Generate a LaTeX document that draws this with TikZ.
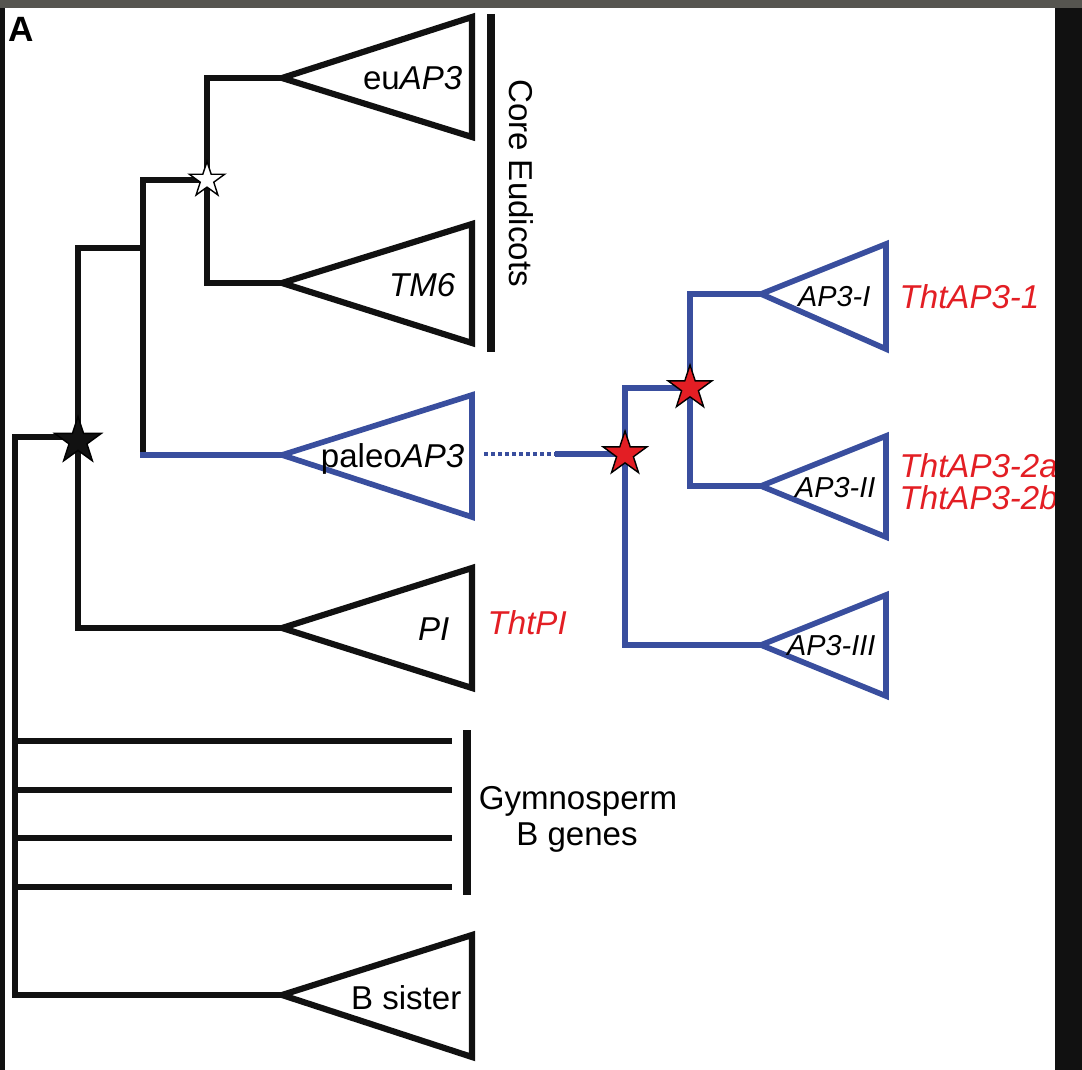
\documentclass[tikz,border=0pt]{standalone}
\usepackage{fontspec}
\setmainfont{Liberation Sans}
\usetikzlibrary{shapes.geometric}
\definecolor{blu}{RGB}{57,78,158}
\definecolor{rosso}{RGB}{227,30,36}
\definecolor{cornice}{RGB}{86,85,80}
\definecolor{nero}{RGB}{17,17,17}
\tikzset{
  ramo/.style={line width=1.45pt,draw=nero},
  ramoblu/.style={line width=1.45pt,draw=blu},
  clade/.style={line width=1.75pt,draw=nero,line join=miter},
  cladeblu/.style={line width=1.6pt,draw=blu,line join=miter},
  barra/.style={line width=2pt,draw=nero},
  stella/.style={star,star points=5,star point ratio=2.6,inner sep=0pt,draw=black,line width=0.4pt},
  etich/.style={font=\fontsize{9.4}{11}\selectfont,inner sep=0pt},
  etichp/.style={font=\fontsize{8.2}{10}\selectfont,inner sep=0pt},
}
\begin{document}
\begin{tikzpicture}[x=0.01cm,y=-0.01cm]
  \useasboundingbox (0,0) rectangle (1082,1070);
  \fill[white] (0,0) rectangle (1082,1070);
  % --- nodi dell'albero ---
  \coordinate (eu) at (282,78);
  \coordinate (tm) at (282,283);
  \coordinate (paleo) at (282,455);
  \coordinate (pi) at (282,628);
  \coordinate (bs) at (282,995);
  \coordinate (ce) at (207,180);
  \coordinate (b1) at (143,248);
  \coordinate (b2) at (143,455);
  \coordinate (s1) at (78,437);
  \coordinate (root) at (15,995);
  \coordinate (pend) at (484,454);
  \coordinate (dend) at (555,454);
  \coordinate (d1) at (625,454);
  \coordinate (d2) at (690,388);
  \coordinate (ap3a) at (761,294);
  \coordinate (ap3b) at (761,486);
  \coordinate (ap3c) at (761,645);
  % --- rami ---
  \draw[ramo] (eu) -| (ce) |- (tm);
  \draw[ramo] (ce) -| (b2);
  \draw[ramoblu,line cap=rect] (b2) -- (paleo);
  \draw[ramo] (b1) -| (s1) |- (pi);
  \draw[ramo] (s1) -| (root) -- (bs);
  \foreach \y [count=\i] in {741,790,838,887} {
    \coordinate (g\i) at (452,\y);
    \draw[ramo] (root |- g\i) -- (g\i);
  }
  % --- ramo blu (paleoAP3) ---
  \draw[ramoblu,line width=1.2pt,dash pattern=on 1.1pt off 0.9pt] (pend) -- (dend);
  \draw[ramoblu] (dend) -- (d1);
  \draw[ramoblu] (d2) -| (d1) |- (ap3c);
  \draw[ramoblu] (ap3a) -| (d2) |- (ap3b);
  % --- triangoli ---
  \draw[clade] (eu) -- (472,17) -- (472,137) -- cycle;
  \draw[clade] (tm) -- (472,224) -- (472,343) -- cycle;
  \draw[cladeblu] (paleo) -- (472,395) -- (472,517) -- cycle;
  \draw[clade] (pi) -- (472,568) -- (472,688) -- cycle;
  \draw[clade] (bs) -- (472,935) -- (472,1057) -- cycle;
  \draw[cladeblu] (ap3a) -- (886,244) -- (886,349) -- cycle;
  \draw[cladeblu] (ap3b) -- (886,436) -- (886,537) -- cycle;
  \draw[cladeblu] (ap3c) -- (886,595) -- (886,696) -- cycle;
  % --- stelle ---
  \node[stella,fill=white,minimum size=0.37cm] (sce) at (ce) {};
  \node[stella,fill=nero,minimum size=0.49cm] (ss1) at ([yshift=-0.04cm]s1) {};
  \node[stella,fill=rosso,minimum size=0.46cm] (sd1) at (d1) {};
  \node[stella,fill=rosso,minimum size=0.46cm] (sd2) at (d2) {};
  % --- barre ---
  \draw[barra] (491,14) -- (491,352);
  \draw[barra] (467,730) -- (467,895);
  % --- etichette ---
  \node[etich,anchor=base east] (leu) at (463,90) {eu\textit{AP3}};
  \node[etich,anchor=base east] (ltm) at (456,296) {\textit{TM6}};
  \node[etich,anchor=base east] (lpaleo) at (465,467) {paleo\textit{AP3}};
  \node[etich,anchor=base east] (lpi) at (450,640) {\textit{PI}};
  \node[etich,anchor=base east] (lbs) at (462,1009) {B sister};
  \node[etich,anchor=base west,text=rosso] (ltpi) at (487,634) {\textit{ThtPI}};
  \node[etichp,anchor=base east] (la) at (871,306) {\textit{AP3-I}};
  \node[etichp,anchor=base east] (lb) at (876,497) {\textit{AP3-II}};
  \node[etichp,anchor=base east] (lc) at (876,655) {\textit{AP3-III}};
  \node[etich,anchor=base west,text=rosso] (lt1) at (899,308) {\textit{ThtAP3-1}};
  \node[etich,anchor=base west,text=rosso] (lt2a) at (899,477) {\textit{ThtAP3-2a}};
  \node[etich,anchor=base west,text=rosso] (lt2b) at (899,509) {\textit{ThtAP3-2b}};
  \node[etich,rotate=-90] (lcore) at (521,183) {Core Eudicots};
  \node[etich,anchor=base] (lgym) at (578,809) {Gymnosperm};
  \node[etich,anchor=base] (lgen) at (577,845) {B genes};
  \node[etich,anchor=base west,font=\fontsize{10}{12}\selectfont\bfseries] (lA) at (8,42) {A};
  % --- cornice ---
  \fill[cornice] (0,0) rectangle (1082,8);
  \fill[nero] (0,8) rectangle (5,1070);
  \fill[nero] (1055,8) rectangle (1082,1070);
\end{tikzpicture}
\end{document}
